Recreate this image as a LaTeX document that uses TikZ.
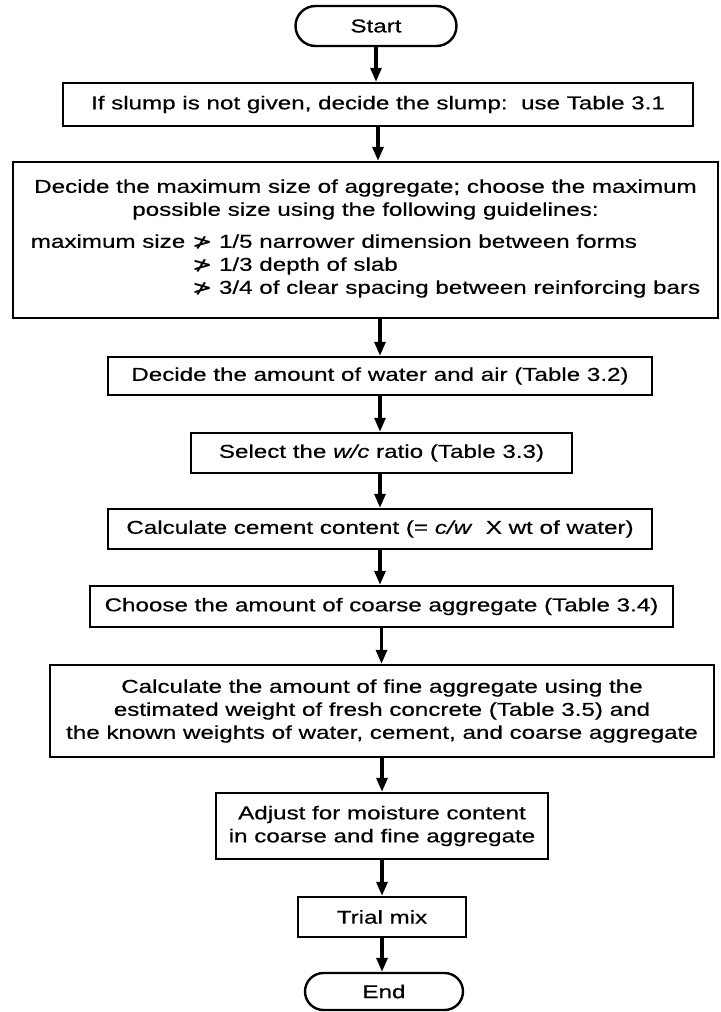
\documentclass[tikz,border=0pt]{standalone}
\usepackage{fontspec}
\usetikzlibrary{arrows.meta,shapes.misc}
\newfontfamily\chartfont{Liberation Sans}[FakeStretch=1.3,FakeBold=0.5]
\newfontfamily\relfont{DejaVu Sans}[FakeStretch=1.3,FakeBold=0.5]
\newcommand{\ngt}{{\relfont ≯}}

\begin{document}
\begin{tikzpicture}[x=0.5pt, y=-0.5pt,
  flowbox/.style={draw, line width=1.2pt, rectangle, align=center, inner sep=2pt,
    font=\chartfont\fontsize{9.3}{11.5}\selectfont},
  terminal/.style={flowbox, rounded rectangle},
  flowarrow/.style={line width=1.6pt, -{Triangle[length=7pt,width=5.5pt]}}]
% Page size of the reference
\useasboundingbox (0,0) rectangle (720,1012);

% Steps, top to bottom
\node[terminal, minimum width=84.5pt, minimum height=20pt] (start) at (376,26) {Start};
\node[flowbox, minimum width=315pt, minimum height=21.5pt] (slump) at (378,104.5)
  {If slump is not given, decide the slump:\ \ use Table 3.1};
\node[flowbox, minimum width=352.5pt, minimum height=78pt] (maxsize) at (365.5,240)
  {Decide the maximum size of aggregate; choose the maximum\\
   possible size using the following guidelines:\\[5pt]
   \begin{tabular}{@{}r@{ }l@{}}
   maximum size & \ngt{} 1/5 narrower dimension between forms\\
    & \ngt{} 1/3 depth of slab\\
    & \ngt{} 3/4 of clear spacing between reinforcing bars
   \end{tabular}};
\node[flowbox, minimum width=272pt, minimum height=19pt] (water) at (380,376)
  {Decide the amount of water and air (Table 3.2)};
\node[flowbox, minimum width=190.5pt, minimum height=20pt] (wcratio) at (381.5,453)
  {Select the \textit{w/c} ratio (Table 3.3)};
\node[flowbox, minimum width=272pt, minimum height=20pt] (cement) at (380,529)
  {Calculate cement content (= \textit{c/w}\ \ X wt of water)};
\node[flowbox, minimum width=291.5pt, minimum height=20.5pt] (coarse) at (381.5,606.5)
  {Choose the amount of coarse aggregate (Table 3.4)};
\node[flowbox, minimum width=332pt, minimum height=46pt] (fine) at (382,711)
  {Calculate the amount of fine aggregate using the\\
   estimated weight of fresh concrete (Table 3.5) and\\
   the known weights of water, cement, and coarse aggregate};
\node[flowbox, minimum width=166pt, minimum height=33pt] (moisture) at (382,826)
  {Adjust for moisture content\\ in coarse and fine aggregate};
\node[flowbox, minimum width=84pt, minimum height=20pt] (trial) at (382,917) {Trial mix};
\node[terminal, minimum width=83pt, minimum height=18.5pt] (end) at (384,991.5) {End};

% Arrows
\draw[flowarrow] (start.south) -- (start.south |- slump.north);
\draw[flowarrow] (slump.south) -- (slump.south |- maxsize.north);
\draw[flowarrow] (water.north |- maxsize.south) -- (water.north);
\draw[flowarrow] (water.south) -- (water.south |- wcratio.north);
\draw[flowarrow] (cement.north |- wcratio.south) -- (cement.north);
\draw[flowarrow] (cement.south) -- (cement.south |- coarse.north);
\draw[flowarrow] (coarse.south) -- (coarse.south |- fine.north);
\draw[flowarrow] (fine.south) -- (fine.south |- moisture.north);
\draw[flowarrow] (moisture.south) -- (moisture.south |- trial.north);
\draw[flowarrow] (trial.south) -- (trial.south |- end.north);
\end{tikzpicture}
\end{document}
